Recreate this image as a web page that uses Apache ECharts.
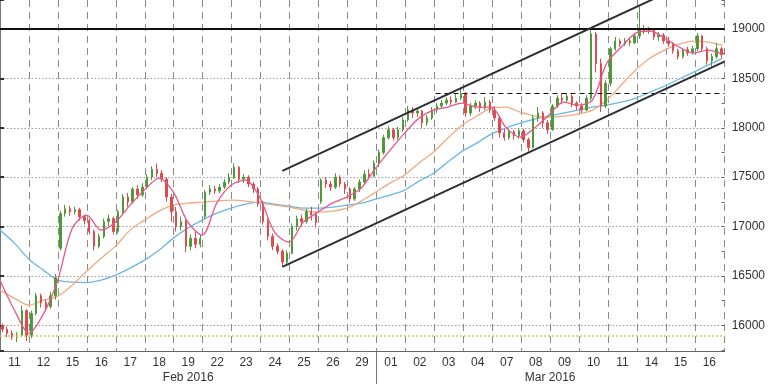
<!DOCTYPE html>
<html><head><meta charset="utf-8">
<script src="https://cdn.jsdelivr.net/npm/echarts@6/dist/echarts.min.js"></script>
<style>html,body{margin:0;padding:0;background:#fff}#c{width:768px;height:384px}</style>
</head><body><div id="c"></div>
<script>
// ---- data ----
const dayLabels = ['11','12','15','16','17','18','19','22','23','24','25','26','29',
                   '01','02','03','04','07','08','09','10','11','14','15','16'];
const monthLabels = ['Feb 2016', 'Mar 2016'];
const monthDayCounts = [13, 12];
const candlesPerDay = 6;
// [open, close, low, high]
const candles = [
[16000,15960,15930,16020],[15960,15920,15880,15990],[15920,15880,15850,15950],[15880,15900,15830,15930],[15900,16150,15880,16200],[16150,15900,15840,16160],
[15900,16120,15870,16150],[16120,16300,16100,16330],[16300,16230,16180,16320],[16230,16190,16150,16260],[16190,16300,16170,16340],[16300,16480,16260,16520],
[16780,17130,16760,17160],[17130,17180,17100,17220],[17180,17150,17110,17210],[17150,17170,17120,17200],[17170,17100,17060,17190],[17100,17060,17020,17120],
[17060,16950,16920,17080],[16950,16800,16760,16970],[16800,16900,16780,16930],[16900,17050,16880,17080],[17050,17080,17000,17120],[17080,16950,16920,17100],
[16950,17150,16930,17170],[17150,17300,17130,17330],[17300,17250,17200,17340],[17250,17380,17230,17400],[17380,17320,17280,17420],[17320,17400,17300,17440],
[17400,17500,17380,17530],[17500,17580,17470,17610],[17580,17540,17500,17640],[17540,17480,17450,17570],[17480,17300,17250,17500],[17300,17150,17050,17330],
[17150,17000,16950,17200],[17000,17050,16960,17100],[17050,16800,16740,17070],[16800,16880,16760,16920],[16880,16820,16780,16950],[16820,16880,16790,16920],
[17100,17350,17080,17370],[17350,17380,17320,17420],[17380,17360,17330,17410],[17360,17400,17340,17430],[17400,17450,17380,17480],[17450,17500,17430,17540],
[17500,17600,17480,17640],[17600,17480,17440,17610],[17480,17500,17440,17530],[17500,17430,17400,17520],[17430,17380,17340,17450],[17380,17230,17200,17400],
[17230,17050,17020,17260],[17050,16900,16860,17080],[16900,16800,16760,16930],[16800,16750,16720,16830],[16750,16640,16600,16770],[16640,16730,16620,16760],
[16730,17000,16720,17030],[17000,17080,16960,17110],[17080,17050,17000,17120],[17050,17150,17030,17180],[17150,17120,17060,17200],[17120,17040,16990,17150],
[17250,17470,17230,17490],[17470,17430,17390,17500],[17430,17400,17360,17460],[17400,17500,17380,17540],[17500,17430,17400,17520],[17430,17380,17330,17450],
[17380,17280,17240,17400],[17280,17380,17260,17400],[17380,17450,17350,17480],[17450,17530,17430,17570],[17530,17510,17480,17580],[17510,17640,17500,17670],
[17640,17750,17600,17780],[17750,17900,17730,17930],[17900,17980,17880,18020],[17980,17900,17870,18000],[17900,17980,17880,18010],[17980,18080,17960,18110],
[18080,18180,18060,18220],[18180,18150,18100,18210],[18150,18170,18110,18200],[18170,18050,18000,18180],[18050,18100,18020,18130],[18100,18180,18080,18210],
[18180,18220,18150,18250],[18220,18250,18190,18280],[18250,18280,18230,18310],[18280,18260,18230,18320],[18260,18300,18250,18340],[18300,18350,18280,18410],
[18350,18150,18110,18360],[18150,18220,18120,18250],[18220,18250,18190,18280],[18250,18200,18160,18270],[18200,18260,18180,18310],[18260,18180,18150,18280],
[18180,18100,18070,18220],[18100,17950,17900,18120],[17950,17900,17870,17990],[17900,17960,17880,17990],[17960,17920,17880,17980],[17920,17970,17890,18000],
[17970,17880,17850,17990],[17880,17800,17760,17900],[17800,18100,17790,18130],[18100,18150,18060,18210],[18150,18050,18000,18170],[18050,17980,17940,18080],
[17980,18220,17970,18240],[18220,18300,18200,18330],[18300,18280,18240,18350],[18280,18320,18260,18350],[18320,18250,18210,18340],[18250,18220,18180,18270],
[18220,18180,18150,18250],[18180,18300,18170,18330],[18300,18950,18280,19000],[18950,18650,18560,18970],[18650,18220,18160,18700],[18220,18450,18200,18480],
[18450,18800,18420,18820],[18800,18880,18780,18920],[18880,18850,18820,18900],[18850,18880,18830,18910],[18880,18860,18830,18910],[18860,18930,18850,18960],
[18930,19000,18900,19230],[19000,18980,18950,19040],[18980,18990,18950,19020],[18990,18920,18890,19010],[18920,18940,18880,18970],[18940,18880,18850,18960],
[18880,18850,18820,18920],[18850,18780,18750,18870],[18780,18720,18690,18800],[18720,18790,18700,18810],[18790,18760,18730,18820],[18760,18800,18740,18830],
[18800,18930,18780,18960],[18930,18800,18770,18940],[18800,18680,18640,18820],[18680,18720,18620,18750],[18720,18800,18700,18860],[18800,18740,18710,18820]
];
// moving averages sampled every half trading day (x in day units)
const maStep = 0.5;
const maFast = [16457,16153,15920,16113,16457,16984,17116,16964,17045,17217,17369,17491,17349,17045,16913,17237,17420,17470,17288,16944,16842,17045,17146,17237,17298,17389,17592,17774,17946,18098,18179,18210,18250,18210,18210,18007,17906,17997,18129,18260,18230,18281,18656,18818,18959,18980,18909,18818,18757,18787,18747];
const maMid = [16356,16275,16204,16255,16295,16407,16548,16680,16802,16964,17065,17156,17217,17237,17247,17258,17268,17258,17237,17217,17197,17166,17146,17156,17187,17258,17349,17440,17521,17643,17754,17896,18028,18119,18200,18210,18159,18119,18109,18119,18139,18179,18281,18433,18585,18706,18787,18848,18878,18868,18838];
const maSlow = [16964,16832,16670,16559,16457,16437,16432,16457,16508,16579,16660,16761,16883,16984,17065,17136,17187,17227,17247,17227,17207,17187,17187,17197,17217,17237,17278,17318,17369,17460,17540,17653,17764,17845,17936,17997,18048,18088,18119,18149,18179,18210,18230,18260,18301,18362,18423,18494,18564,18635,18706];
// trend channel (x in day units, y in index points)
const channelUpper = [[9.77, 17564], [23.5, 19424]];
const channelLower = [[9.77, 16592], [25.07, 18670]];
const resistanceLevel = 19000;
const priorHighLevel = 18350, priorHighFromDay = 15.07;
const supportLevel = 15890;
const yMin = 15740, yMax = 19294;

// ---- chart ----
const FONT = 'Liberation Sans';
const xMaxDays = 25.077;
const toPts = arr => arr.map((v, i) => [i * maStep, v]);
const candleCats = candles.map((_, i) => String(i));

const chart = echarts.init(document.getElementById('c'), null, {renderer: 'canvas'});
const gridTop = 0, gridBottom = 33;
chart.setOption({
  animation: false,
  backgroundColor: '#fff',
  grid: [
    {left: -6, right: 42, top: gridTop, bottom: gridBottom},
    {left: -5.9, width: 729.75, top: gridTop, bottom: gridBottom}
  ],
  xAxis: [
    {gridIndex: 0, type: 'value', min: 0, max: xMaxDays,
     axisLine: {show: true, onZero: false, lineStyle: {color: '#666', width: 1}},
     axisTick: {show: false}, axisLabel: {show: false}, splitLine: {show: false}},
    {gridIndex: 1, type: 'category', data: dayLabels, boundaryGap: true,
     axisLine: {show: false}, axisTick: {show: false},
     axisLabel: {interval: 0, color: '#333', fontFamily: FONT, fontSize: 12, margin: 6},
     splitLine: {show: true, interval: 0, lineStyle: {color: '#8a8a8a', type: [7, 5], width: 1}}},
    {gridIndex: 1, type: 'category', data: candleCats, boundaryGap: true, show: false}
  ],
  yAxis: [
    {gridIndex: 0, type: 'value', position: 'right', min: yMin, max: yMax, splitNumber: 7,
     axisLine: {show: true, lineStyle: {color: '#777'}},
     axisTick: {show: true, length: 4, lineStyle: {color: '#333', width: 2}},
     axisLabel: {color: '#333', fontFamily: FONT, fontSize: 12, margin: 7,
       formatter: v => (v % 500 === 0 ? String(v) : '')},
     splitLine: {show: true, showMinLine: false, showMaxLine: false,
       lineStyle: {color: '#9a9a9a', type: [1.5, 2], width: 1}}},
    {gridIndex: 1, type: 'value', min: yMin, max: yMax, show: false, splitLine: {show: false}},
    {gridIndex: 0, type: 'value', position: 'right', min: yMin, max: yMax, splitNumber: 14,
     minInterval: 250, maxInterval: 250,
     axisLine: {show: false}, axisLabel: {show: false}, splitLine: {show: false},
     axisTick: {show: true, inside: true, length: 3, lineStyle: {color: '#666', width: 1}}}
  ],
  series: [
    {name: 'levels', type: 'line', xAxisIndex: 0, yAxisIndex: 0, data: [], silent: true,
     markLine: {symbol: 'none', silent: true, label: {show: false}, animation: false,
       data: [
         {yAxis: supportLevel, lineStyle: {color: '#d6cc55', type: [2, 2], width: 1.5}},
         {yAxis: resistanceLevel, lineStyle: {color: '#111', type: 'solid', width: 2}},
         [{coord: [priorHighFromDay, priorHighLevel]}, {coord: [xMaxDays, priorHighLevel]}]
       ],
       lineStyle: {color: '#111', type: [5, 4], width: 1.2}}},
    {name: 'MA slow', type: 'line', xAxisIndex: 0, yAxisIndex: 0, data: toPts(maSlow),
     showSymbol: false, smooth: 0.3, lineStyle: {color: '#6cb6e6', width: 1.3}, z: 3},
    {name: 'MA mid', type: 'line', xAxisIndex: 0, yAxisIndex: 0, data: toPts(maMid),
     showSymbol: false, smooth: 0.3, lineStyle: {color: '#f0aa80', width: 1.3}, z: 3},
    {name: 'candles', type: 'candlestick', xAxisIndex: 2, yAxisIndex: 1, data: candles,
     barWidth: '40%', z: 4,
     itemStyle: {color: '#4f9a38', color0: '#dd4b4b', borderColor: '#4f9a38', borderColor0: '#dd4b4b', borderWidth: 1}},
    {name: 'MA fast', type: 'line', xAxisIndex: 0, yAxisIndex: 0, data: toPts(maFast),
     showSymbol: false, smooth: 0.3, lineStyle: {color: '#e9568a', width: 1.3}, z: 5},
    {name: 'channel upper', type: 'line', xAxisIndex: 0, yAxisIndex: 0, data: channelUpper,
     showSymbol: false, lineStyle: {color: '#2b2e33', width: 2}, z: 6},
    {name: 'channel lower', type: 'line', xAxisIndex: 0, yAxisIndex: 0, data: channelLower,
     showSymbol: false, lineStyle: {color: '#2b2e33', width: 2}, z: 6}
  ]
});

// month labels under the day labels
const cx = i => chart.convertToPixel({xAxisIndex: 1}, i);
const dayW = cx(1) - cx(0);
const gridBottomY = 384 - gridBottom;
const graphics = [];
let start = 0;
monthLabels.forEach((m, k) => {
  const end = start + monthDayCounts[k] - 1;
  const x0 = cx(start) - dayW / 2, x1 = cx(end) + dayW / 2;
  graphics.push({type: 'text', x: (x0 + x1) / 2, y: 378,
    style: {text: m, fill: '#333', font: '12px "' + FONT + '"', align: 'center', verticalAlign: 'middle'}});
  if (k > 0) {
    graphics.push({type: 'line', shape: {x1: Math.round(x0) + 0.5, y1: gridBottomY, x2: Math.round(x0) + 0.5, y2: 384},
      style: {stroke: '#777', lineWidth: 1}});
  }
  start = end + 1;
});
chart.setOption({graphic: graphics});
</script>
</body></html>
